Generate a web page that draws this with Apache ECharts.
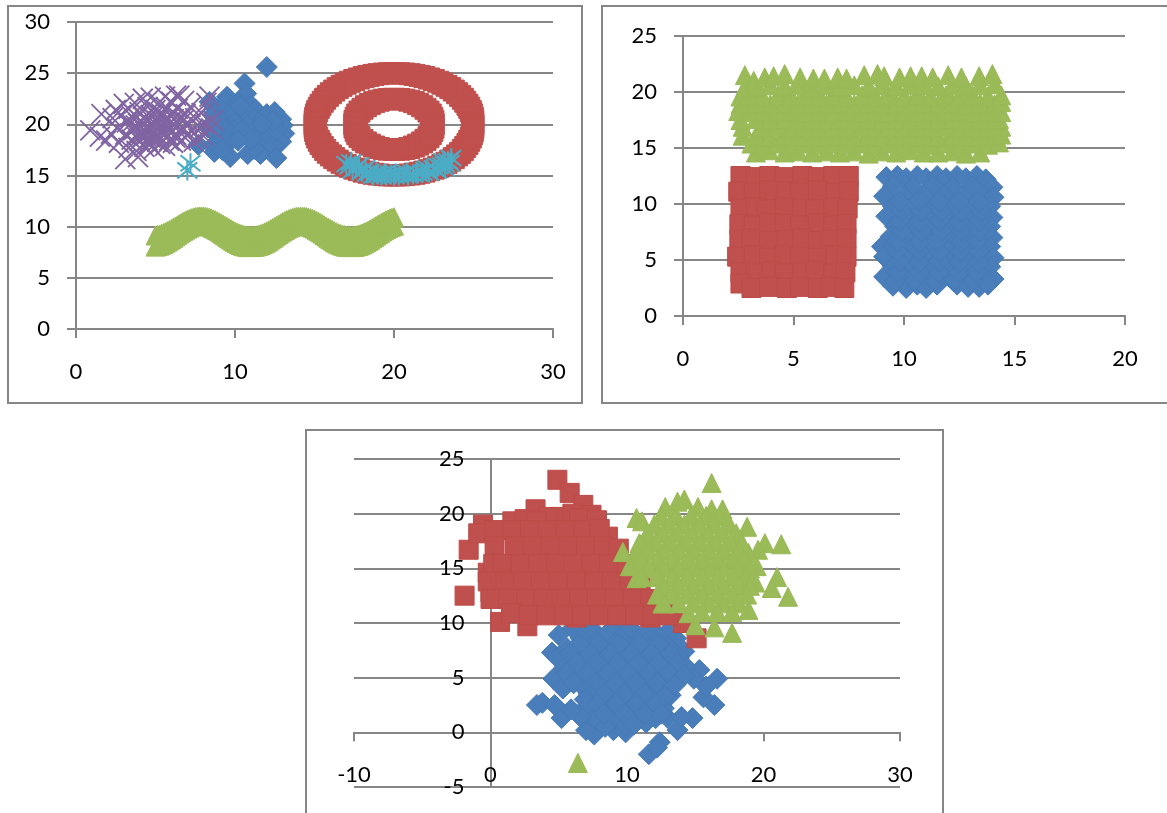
<!DOCTYPE html>
<html><head><meta charset="utf-8">
<script src="https://cdn.jsdelivr.net/npm/echarts@6/dist/echarts.min.js"></script>
<style>html,body{margin:0;padding:0;background:#fff;overflow:hidden}#c{width:1167px;height:813px}</style>
</head><body><div id="c"></div>
<script>
const a1Blue=[[12,25.6],[10.6,24],[10.7,23],[9.5,22.7],[8.4,22.2],[10.2,22.1],[11,21.9],[9,21.6],[9.8,21.2],[10.6,21.3],[11.3,21.4],[12,21],[12.5,21.2],[8.6,20.9],[10.5,20.8],[11.2,20.5],[11.8,20.6],[12.9,20.5],[9.3,20.2],[10,20.1],[10.8,19.9],[11.6,19.8],[12.2,19.9],[13,19.9],[8.3,19.7],[9.9,19.4],[11.3,19.5],[13.1,19.1],[8.8,19],[9.6,19],[10.5,18.9],[11.4,18.9],[12.2,18.8],[9.4,18.4],[11.4,18.5],[12.9,18.3],[7.7,18],[8.6,17.9],[9.5,18],[11.7,17.8],[12.4,17.9],[8.7,17.3],[9.7,16.8],[9.2,17.5],[10.8,17.1],[11.6,17.1],[12.6,16.7],[11.2,17.6],[9.4,19.6],[10.4,19.4],[12,19.3],[12.6,19.4],[11,18.5],[10.2,18.4],[12.4,20.3],[9,19.9],[10.3,21.8],[11.7,20]];
const a1Red=[[25,20],[24.96,20.65],[24.83,21.29],[24.62,21.91],[24.33,22.5],[23.97,23.04],[23.54,23.54],[23.04,23.97],[22.5,24.33],[21.91,24.62],[21.29,24.83],[20.65,24.96],[20,25],[19.35,24.96],[18.71,24.83],[18.09,24.62],[17.5,24.33],[16.96,23.97],[16.46,23.54],[16.03,23.04],[15.67,22.5],[15.38,21.91],[15.17,21.29],[15.04,20.65],[15,20],[15.04,19.35],[15.17,18.71],[15.38,18.09],[15.67,17.5],[16.03,16.96],[16.46,16.46],[16.96,16.03],[17.5,15.67],[18.09,15.38],[18.71,15.17],[19.35,15.04],[20,15],[20.65,15.04],[21.29,15.17],[21.91,15.38],[22.5,15.67],[23.04,16.03],[23.54,16.46],[23.97,16.96],[24.33,17.5],[24.62,18.09],[24.83,18.71],[24.96,19.35],
[24.99,20.33],[24.9,20.98],[24.73,21.61],[24.48,22.21],[24.16,22.78],[23.76,23.3],[23.3,23.76],[22.78,24.16],[22.21,24.48],[21.61,24.73],[20.98,24.9],[20.33,24.99],[19.67,24.99],[19.02,24.9],[18.39,24.73],[17.79,24.48],[17.22,24.16],[16.7,23.76],[16.24,23.3],[15.84,22.78],[15.52,22.21],[15.27,21.61],[15.1,20.98],[15.01,20.33],[15.01,19.67],[15.1,19.02],[15.27,18.39],[15.52,17.79],[15.84,17.22],[16.24,16.7],[16.7,16.24],[17.22,15.84],[17.79,15.52],[18.39,15.27],[19.02,15.1],[19.67,15.01],[20.33,15.01],[20.98,15.1],[21.61,15.27],[22.21,15.52],[22.78,15.84],[23.3,16.24],[23.76,16.7],[24.16,17.22],[24.48,17.79],[24.73,18.39],[24.9,19.02],[24.99,19.67],
[22.5,20],[22.41,20.65],[22.17,21.25],[21.77,21.77],[21.25,22.17],[20.65,22.41],[20,22.5],[19.35,22.41],[18.75,22.17],[18.23,21.77],[17.83,21.25],[17.59,20.65],[17.5,20],[17.59,19.35],[17.83,18.75],[18.23,18.23],[18.75,17.83],[19.35,17.59],[20,17.5],[20.65,17.59],[21.25,17.83],[21.77,18.23],[22.17,18.75],[22.41,19.35],
[22.48,20.33],[22.31,20.96],[21.98,21.52],[21.52,21.98],[20.96,22.31],[20.33,22.48],[19.67,22.48],[19.04,22.31],[18.48,21.98],[18.02,21.52],[17.69,20.96],[17.52,20.33],[17.52,19.67],[17.69,19.04],[18.02,18.48],[18.48,18.02],[19.04,17.69],[19.67,17.52],[20.33,17.52],[20.96,17.69],[21.52,18.02],[21.98,18.48],[22.31,19.04],[22.48,19.67]];
const a1GreenX=[5,5.25,5.5,5.75,6,6.25,6.5,6.75,7,7.25,7.5,7.75,8,8.25,8.5,8.75,9,9.25,9.5,9.75,10,10.25,10.5,10.75,11,11.25,11.5,11.75,12,12.25,12.5,12.75,13,13.25,13.5,13.75,14,14.25,14.5,14.75,15,15.25,15.5,15.75,16,16.25,16.5,16.75,17,17.25,17.5,17.75,18,18.25,18.5,18.75,19,19.25,19.5,19.75,20];
const a1GreenLow=[8.05,8.15,8.32,8.54,8.79,9.06,9.34,9.6,9.82,10.01,10.13,10.19,10.19,10.12,9.98,9.79,9.55,9.29,9.02,8.75,8.5,8.29,8.13,8.03,8,8.04,8.14,8.3,8.51,8.76,9.03,9.3,9.56,9.8,9.98,10.12,10.19,10.19,10.13,10,9.82,9.59,9.33,9.05,8.78,8.53,8.32,8.15,8.04,8,8.03,8.12,8.27,8.48,8.73,9,9.27,9.53,9.77,9.97,10.1];
const a1GreenHigh=[9.14,9.23,9.38,9.57,9.78,10.02,10.25,10.48,10.67,10.83,10.94,10.99,10.99,10.93,10.81,10.64,10.44,10.22,9.98,9.75,9.53,9.35,9.21,9.13,9.1,9.13,9.22,9.36,9.54,9.76,9.99,10.22,10.45,10.65,10.81,10.93,10.99,10.99,10.94,10.83,10.67,10.47,10.25,10.01,9.78,9.56,9.37,9.23,9.14,9.1,9.12,9.2,9.34,9.52,9.73,9.96,10.19,10.42,10.63,10.8,10.92];
const a1GreenX2=[5.125,5.375,5.625,5.875,6.125,6.375,6.625,6.875,7.125,7.375,7.625,7.875,8.125,8.375,8.625,8.875,9.125,9.375,9.625,9.875,10.125,10.375,10.625,10.875,11.125,11.375,11.625,11.875,12.125,12.375,12.625,12.875,13.125,13.375,13.625,13.875,14.125,14.375,14.625,14.875,15.125,15.375,15.625,15.875,16.125,16.375,16.625,16.875,17.125,17.375,17.625,17.875,18.125,18.375,18.625,18.875,19.125,19.375,19.625,19.875];
const a1GreenLow2=[8.1,8.23,8.43,8.66,8.92,9.2,9.47,9.71,9.91,10.07,10.16,10.19,10.15,10.05,9.88,9.67,9.42,9.15,8.88,8.62,8.39,8.21,8.08,8.01,8.02,8.09,8.22,8.4,8.63,8.9,9.16,9.43,9.68,9.89,10.05,10.15,10.19,10.16,10.06,9.91,9.7,9.46,9.19,8.91,8.65,8.42,8.23,8.09,8.02,8.01,8.07,8.19,8.37,8.6,8.86,9.13,9.4,9.65,9.87,10.03];
const a1GreenHigh2=[9.18,9.3,9.47,9.67,9.9,10.13,10.36,10.57,10.75,10.88,10.96,10.99,10.96,10.87,10.72,10.54,10.33,10.1,9.86,9.64,9.44,9.28,9.17,9.11,9.11,9.17,9.29,9.45,9.65,9.87,10.1,10.33,10.55,10.73,10.87,10.96,10.99,10.96,10.88,10.75,10.57,10.36,10.13,9.9,9.67,9.46,9.3,9.18,9.12,9.11,9.16,9.27,9.43,9.62,9.84,10.07,10.3,10.52,10.71,10.86];
const a1Purple=[[0.9,19.4],[1.5,18.8],[1.6,21],[1.9,18.4],[2.2,19.1],[2.3,20.6],[2.5,21.4],[2.6,19.6],[2.7,18.2],[2.8,20.9],[3,22],[3.1,16.6],[3.1,19],[3.2,20.2],[3.3,21.5],[3.3,17.7],[3.5,18.5],[3.5,20.8],[3.6,19.4],[3.7,22.1],[3.8,17.4],[3.9,16.8],[3.9,20.1],[4,21.2],[4,18.4],[4.1,19.2],[4.2,22.5],[4.3,17.8],[4.3,20.6],[4.4,18.9],[4.5,21.7],[4.5,19.7],[4.6,18.1],[4.7,20.9],[4.7,22.6],[4.8,19.1],[4.9,20.2],[4.9,17.6],[5,21.4],[5,18.6],[5.1,19.6],[5.2,22.1],[5.2,20.6],[5.3,18.1],[5.4,19.1],[5.4,21],[5.5,20],[5.6,17.9],[5.6,22.7],[5.7,21.6],[5.8,18.9],[5.8,20.5],[5.9,19.5],[6,22.2],[6,21.1],[6.1,18.2],[6.2,20],[6.3,22.8],[6.3,19],[6.4,21.5],[6.5,22.8],[6.5,20.6],[6.6,18.4],[6.7,19.6],[6.8,22.3],[6.9,21],[7,18.9],[7,20.2],[7.2,21.7],[7.3,19.4],[7.4,18.3],[7.5,20.6],[7.7,18.6],[7.8,19.7],[7.9,21.1],[8,18.9],[8.1,20],[8.2,22.1],[8.4,22.7],[8.5,19.6],[8.6,20.4],
[4.2,20],[4.4,20.4],[4.6,19.4],[4.7,18.7],[4.8,20.7],[4.95,19.8],[5.05,19],[5.15,20.3],[5.25,18.8],[5.3,19.9],[5.35,20.9],[5.45,19.4],[5.55,20.4],[5.65,19.1],[5.75,19.9],[5.85,18.4],[5.95,20.9],[4.35,19.3],[4.15,18.7],[3.75,19.9],[3.45,20.1],[6.05,19.3],[6.15,20.5],[6.25,18.7],[6.55,19.2],[6.75,20.4],[7.1,19.1],[3.8,18.8],[4.5,18.4],[5.1,18.3]];
const a1Cyan=[[7,15.5],[7.2,16.2],[17,16.1],[17.2,15.9],[17.3,16.3],[17.4,15.5],[17.6,15.7],[17.8,16],[18,15.4],[18.2,15.7],[18.3,15.2],[18.5,15.3],[18.7,15],[18.9,15.3],[19,15.1],[19.2,15],[19.4,15.2],[19.5,15],[19.8,15.1],[20,15],[20.1,15.2],[20.3,15],[20.6,15.1],[20.8,15.3],[20.9,15],[21.2,15.1],[21.4,15.3],[21.5,15.2],[21.8,15.3],[22,15.5],[22.1,15.7],[22.2,15.3],[22.5,15.7],[22.7,15.5],[22.8,15.9],[23,16],[23.1,16.4],[23.2,16.1],[23.4,16.4],[23.6,16.7],[23.5,16.2],[23.2,15.7]];

const b2Blue=[[9.2,12.4],[9.7,12.5],[10.1,12.3],[10.6,12.5],[11,12.3],[11.5,12.5],[11.9,12.3],[12.4,12.5],[12.8,12.3],[13.3,12.5],[13.7,12.2],
[9.5,11.6],[10.4,11.5],[11.3,11.6],[12.2,11.5],[13.1,11.6],[14,11.5],
[9.1,10.7],[10,10.7],[10.9,10.7],[11.8,10.8],[12.7,10.6],[13.6,10.7],[14.05,10.6],
[9.5,9.8],[10.4,9.8],[11.3,9.8],[12.2,9.8],[13.1,9.8],[13.9,9.8],
[9.2,8.9],[10,8.9],[10.9,8.9],[11.8,8.9],[12.7,8.9],[13.6,8.9],[14,8.8],
[9.6,8],[10.4,8],[11.3,8],[12.2,8],[13.1,8],[13.9,8],
[9.4,7.1],[10,7.1],[10.9,7.1],[11.8,7.1],[12.7,7.1],[13.6,7.1],[14,7],
[9,6.2],[9.5,6.2],[10.4,6.2],[11.3,6.2],[12.2,6.2],[13.1,6.2],[13.9,6.2],
[9.1,5.3],[10,5.3],[10.9,5.3],[11.8,5.3],[12.7,5.3],[13.6,5.3],[14.05,5.2],
[9.5,4.4],[10.4,4.4],[11.3,4.4],[12.2,4.4],[13.1,4.4],[13.9,4.4],
[9.1,3.5],[10,3.5],[10.9,3.5],[11.8,3.5],[12.7,3.5],[13.6,3.5],[14.05,3.3],
[9.5,2.7],[10.1,2.5],[10.6,2.8],[11,2.5],[11.5,2.8],[12.4,2.8],[12.9,2.6],[13.4,2.6],[13.8,2.8],
[9.6,3.1],[10.5,3.2],[11.4,3.1],[12.3,3.2],[13.1,3.1],[9.7,3.9],[10.7,3.9],[11.6,3.9],[12.5,3.9],[13.3,3.9],[9.8,4.9],[10.7,4.8],[11.6,4.9],[12.5,4.8],[13.4,4.8],[9.7,5.8],[10.7,5.8],[11.6,5.7],[12.6,5.8],[13.4,5.8],[9.7,6.7],[10.7,6.6],[11.5,6.7],[12.6,6.6],[13.3,6.7],[9.9,7.6],[10.8,7.6],[11.7,7.6],[12.6,7.6],[13.4,7.6],[9.8,8.5],[10.7,8.4],[11.6,8.5],[12.5,8.4],[13.4,8.5],[9.9,9.4],[10.8,9.4],[11.7,9.4],[12.6,9.4],[13.5,9.4],[9.8,10.2],[10.7,10.3],[11.6,10.2],[12.5,10.2],[13.4,10.2]];
const b2Red=[[2.6,12.5],[3.3,12.4],[3.9,12.5],[4.6,12.4],[5.4,12.5],[6.1,12.4],[6.8,12.5],[7.5,12.5],
[2.5,11.1],[3.2,11],[3.9,11.2],[4.7,11.1],[5.3,11],[6.1,11.2],[6.9,11],[7.5,11.1],
[2.6,9.6],[3.3,9.7],[3.8,9.5],[4.6,9.7],[5.4,9.6],[6,9.5],[6.8,9.7],[7.45,9.6],
[2.55,8.2],[3.2,8.1],[3.9,8.3],[4.6,8.2],[5.3,8.1],[6.1,8.3],[6.8,8.1],[7.4,8.2],
[2.55,6.8],[3.1,6.9],[3.9,6.7],[4.7,6.8],[5.4,6.9],[6.1,6.7],[6.7,6.8],[7.4,6.9],
[2.45,5.3],[3.2,5.4],[3.9,5.2],[4.6,5.4],[5.3,5.3],[6.1,5.2],[6.9,5.4],[7.4,5.3],
[2.6,3.9],[3.3,3.8],[4,4],[4.6,3.8],[5.4,3.9],[6,4],[6.8,3.8],[7.35,3.9],
[2.6,2.9],[3.1,2.5],[3.9,2.6],[4.7,2.5],[5.3,2.6],[6.1,2.5],[6.7,2.6],[7.3,2.5]];
const b2Green=[[3.3,14.6],[3.9,14.8],[4.6,14.6],[5.2,14.7],[5.85,14.6],[6.5,14.7],[7.1,14.6],[7.75,14.7],[8.4,14.5],[9,14.7],[9.65,14.6],[10.3,14.8],[10.9,14.6],[11.55,14.6],[12.2,14.7],[12.8,14.5],[13.45,14.6],
[3.1,15.4],[3.6,15.3],[4.3,15.4],[4.9,15.3],[5.5,15.4],[6.2,15.3],[6.8,15.4],[7.4,15.3],[8.1,15.4],[8.7,15.3],[9.3,15.4],[10,15.3],[10.6,15.4],[11.2,15.3],[11.9,15.4],[12.5,15.3],[13.1,15.4],[13.8,15.3],[14.3,15.5],
[2.7,16.1],[3.3,16.1],[3.95,16],[4.6,16.1],[5.2,16],[5.85,16.1],[6.5,16],[7.1,16.1],[7.75,16],[8.4,16.1],[9,16],[9.65,16.1],[10.3,16],[10.9,16.1],[11.55,16],[12.2,16.1],[12.8,16],[13.45,16.1],[14.1,16],[14.4,16.2],
[2.7,16.9],[3.6,16.8],[4.3,16.9],[4.9,16.8],[5.5,16.9],[6.2,16.8],[6.8,16.9],[7.4,16.8],[8.1,16.9],[8.7,16.8],[9.3,16.9],[10,16.8],[10.6,16.9],[11.2,16.8],[11.9,16.9],[12.5,16.8],[13.1,16.9],[13.8,16.8],[14.4,16.9],
[2.6,17.5],[3.3,17.6],[3.95,17.5],[4.6,17.6],[5.2,17.5],[5.85,17.6],[6.5,17.5],[7.1,17.6],[7.75,17.5],[8.4,17.6],[9,17.5],[9.65,17.6],[10.3,17.5],[10.9,17.6],[11.55,17.5],[12.2,17.6],[12.8,17.5],[13.45,17.6],[14.1,17.5],[14.3,17.6],
[2.5,18.3],[3,18.2],[3.6,18.3],[4.3,18.2],[4.9,18.3],[5.5,18.2],[6.2,18.3],[6.8,18.2],[7.4,18.3],[8.1,18.2],[8.7,18.3],[9.3,18.2],[10,18.3],[10.6,18.2],[11.2,18.3],[11.9,18.2],[12.5,18.3],[13.1,18.2],[13.8,18.3],[14.4,18.2],
[2.6,18.9],[3.3,19],[3.95,18.9],[4.6,19],[5.2,18.9],[5.85,19],[6.5,18.9],[7.1,19],[7.75,18.9],[8.4,19],[9,18.9],[9.65,19],[10.3,18.9],[10.9,19],[11.55,18.9],[12.2,19],[12.8,18.9],[13.45,19],[14.1,18.9],[14.4,19.1],
[2.6,19.6],[3,19.7],[3.6,19.6],[4.3,19.7],[4.9,19.6],[5.5,19.7],[6.2,19.6],[6.8,19.7],[7.4,19.6],[8.1,19.7],[8.7,19.6],[9.3,19.7],[10,19.6],[10.6,19.7],[11.2,19.6],[11.9,19.7],[12.5,19.6],[13.1,19.7],[13.8,19.6],[14.4,19.7],
[2.8,20.4],[3.3,20.5],[3.95,20.6],[4.6,20.5],[5.2,20.6],[5.85,20.4],[6.5,20.6],[7.1,20.5],[7.75,20.6],[8.4,20.5],[9,20.6],[9.65,20.5],[10.3,20.6],[10.9,20.6],[11.55,20.5],[12.2,20.6],[12.8,20.5],[13.45,20.6],[14.1,20.7],
[2.8,21.5],[3.2,21],[3.7,21.3],[4.1,21.4],[4.6,21.6],[5.3,21.3],[5.9,21.2],[6.4,21.2],[7,21.3],[7.4,21.2],[8.2,21.5],[8.8,21.6],[9.1,21.4],[9.8,21.3],[10.3,21.4],[10.8,21.4],[11.3,21.3],[12,21.5],[12.6,21.3],[13.4,21.4],[14,21.6]];

const c3Blue=[[3.4,2.5],[3.8,2.7],[4.5,7.3],[5.2,1.3],[4.7,2.5],[7.6,-0.2],[7,0.2],[9,0.2],[9.9,0],[11.4,0.9],[11.6,-2],[12.4,-0.9],[12.2,-1.4],[13.7,0.2],[13,1.3],[14.8,1.3],[14,1.4],[16.4,2.5],[15.6,3.2],[16.6,4.9],[15.8,4.2],[15.3,5.7],[14.2,7.4],
[6,9.5],[7.4,9.5],[8.9,9.5],[9.7,10],[10.3,9.5],[11.8,9.5],[13.2,9.5],
[5,8.9],[6.6,8.6],[8,8.6],[9.5,8.6],[11,8.6],[12.4,8.6],[13.6,8.6],
[5.6,7.7],[7.2,7.7],[8.7,7.7],[10.2,7.7],[11.7,7.7],[13.1,7.7],
[4.9,6.8],[6.4,6.8],[7.9,6.8],[9.4,6.8],[10.9,6.8],[12.4,6.8],[13.8,6.8],
[5.4,5.9],[6.9,5.9],[8.4,5.9],[9.9,5.9],[11.4,5.9],[12.9,5.9],[14.4,5.9],
[4.6,4.9],[6.1,4.9],[7.6,4.9],[9.1,4.9],[10.6,4.9],[12.1,4.9],[13.6,4.9],[14.9,4.9],
[5.3,4],[6.9,4],[8.4,4],[9.9,4],[11.4,4],[12.9,4],
[7.5,3.1],[9,3.1],[10.5,3.1],[12,3.1],[13.2,3.4],
[6.9,2.2],[8.4,2.2],[9.9,2.2],[11.4,2.2],[12.7,2.2],
[7.6,1.3],[9.1,1.3],[10.6,1.3],[12.1,1.3],[8.4,0.5],[9.9,0.6],
[6.5,8.1],[7.9,8.1],[9.4,8.1],[10.9,8.1],[12.3,8.1],[5.8,7.2],[7.3,7.2],[8.8,7.2],[10.3,7.2],[11.8,7.2],[13.2,7.2],[6.3,6.3],[7.8,6.3],[9.3,6.3],[10.8,6.3],[12.3,6.3],[13.7,6.3],[5.6,5.4],[7.1,5.4],[8.6,5.4],[10.1,5.4],[11.6,5.4],[13.1,5.4],[14.2,5.2],[6.1,4.5],[7.7,4.5],[9.2,4.5],[10.7,4.5],[12.2,4.5],[13.5,4.3],[7.2,3.5],[8.3,3.5],[9.8,3.5],[11.3,3.5],[12.8,3.3],[6.9,3],[7.8,2.6],[9.2,2.6],[10.7,2.6],[12.1,2.6],[8.3,1.7],[9.8,1.7],[11.3,1.7],[12.5,1.7],[6.6,1.4],[10.5,0.7],[5.9,2.1]];
const c3Red=[[4.9,23.1],[5.8,21.9],[-0.55,19],[-1.6,16.7],[-1.9,12.5],[0.7,10.1],[2.7,9.7],[3.3,20.4],[1.6,19.3],[-0.2,14.6],[0,12.8],[6.8,20.8],[5.1,19.7],[8.6,17.9],[6.3,10.5],[10.7,11],[11.7,10.5],[15.1,8.6],[14.1,10],[-0.9,18.2],[7.4,19.9],
[2.5,19.5],[4.2,19.7],[6,20],[6.5,19.6],[7.8,19.4],[3.4,19.3],[0.3,18.5],[1.6,18.5],[2.9,18.5],[4.2,18.5],[5.5,18.5],[6.8,18.5],[8,18.6],
[0.3,17],[1.8,17],[3.1,17],[4.4,17],[5.7,17],[7,17],[8.3,17],[9.4,16.8],
[0.2,15.4],[0.9,15.4],[2.2,15.4],[3.5,15.4],[4.8,15.4],[6.1,15.4],[7.4,15.4],[8.7,15.4],[10,15.4],
[-0.2,13.8],[1.1,13.8],[2.4,13.8],[3.7,13.8],[5,13.8],[6.3,13.8],[7.6,13.8],[8.9,13.8],[10.2,13.8],[11,13.8],
[0,12.2],[1.3,12.2],[2.6,12.2],[3.9,12.2],[5.2,12.2],[6.5,12.2],[7.8,12.2],[9.1,12.2],[10.4,12.2],[11.7,12.2],[12.8,12.2],
[1.5,10.9],[2.8,10.7],[4.1,10.7],[5.4,10.7],[6.7,10.7],[8,10.7],[9.3,10.7],[10.6,10.7],[11.9,10.7],[13,10.7]];
const c3Green=[[6.4,-2.8],[16.2,22.8],[13.7,21.1],[14.2,21.3],[12.8,20.6],[15.2,20.6],[16.2,20.4],[17,20.4],[10.7,19.6],[11.1,19.3],[18.8,18.8],[20.1,17.3],[21.3,17.2],[19.6,16.7],[9.7,16.5],[21,14.2],[21.8,12.4],[20.6,13.2],[19.4,13.7],[18.9,16.4],[19.5,15.2],[10.7,14.1],[17.7,9.1],[15,9.8],[16.4,9.6],[14.5,10.9],[12.6,11.8],[18.9,11.2],
[10.6,15.6],[10.8,16.8],[10.2,15.2],[11.3,17],[10.9,17.3],[12.5,19.8],[13.6,19.8],[14.7,19.8],[15.8,19.8],[16.8,19.8],
[12,19],[13.1,19],[14.2,19],[15.3,19],[16.4,19],[17.5,19],
[11.5,18.2],[12.6,18.2],[13.7,18.2],[14.8,18.2],[15.9,18.2],[17,18.2],[18,18.2],
[11,17.2],[12.1,17.4],[13.2,17.4],[14.3,17.4],[15.4,17.4],[16.5,17.4],[17.6,17.4],[18.4,17.4],
[11.6,16.6],[12.7,16.6],[13.8,16.6],[14.9,16.6],[16,16.6],[17.1,16.6],[18.2,16.6],
[11.1,15.8],[12.2,15.8],[13.3,15.8],[14.4,15.8],[15.5,15.8],[16.6,15.8],[17.7,15.8],[18.6,15.8],
[11.6,15],[12.7,15],[13.8,15],[14.9,15],[16,15],[17.1,15],[18.2,15],[19,15],
[11.1,14.2],[12.2,14.2],[13.3,14.2],[14.4,14.2],[15.5,14.2],[16.6,14.2],[17.7,14.2],[18.7,14.2],
[12.7,13.4],[13.8,13.4],[14.9,13.4],[16,13.4],[17.1,13.4],[18.2,13.4],[19,13.4],
[12.2,12.6],[13.3,12.6],[14.4,12.6],[15.5,12.6],[16.6,12.6],[17.7,12.6],[18.8,12.6],
[12.7,11.8],[13.8,11.8],[14.9,11.8],[16,11.8],[17.1,11.8],[18.2,11.8],
[15.5,11],[16.6,11],[17.7,11]];

const a1Green=[...a1GreenX.map((x,i)=>[x,a1GreenLow[i]]),...a1GreenX2.map((x,i)=>[x,a1GreenLow2[i]]),...a1GreenX.map((x,i)=>[x,a1GreenHigh[i]]),...a1GreenX2.map((x,i)=>[x,a1GreenHigh2[i]])];
const BLUE='#4A7EBB',RED='#C0504D',GREEN='#9BBB59',PURPLE='#8064A2',CYAN='#4BACC6',LINE='#868686';
const FONT='Lato';
const xPath='path://M0 0L20 20M20 0L0 20';
const starPath='path://M1 2L19 18M19 2L1 18M10 0L10 20';
function solid(name,data,g,sym,col,edge,size){return {name,type:'scatter',xAxisIndex:g,yAxisIndex:g,data,symbol:sym,symbolSize:size||19,itemStyle:{color:col,borderColor:edge,borderWidth:1,opacity:1},silent:true};}
function stroke(name,data,g,path,col,w){return {name,type:'scatter',xAxisIndex:g,yAxisIndex:g,data,symbol:path,symbolSize:20,itemStyle:{color:'none',borderColor:col,borderWidth:w,opacity:1},silent:true};}
function xA(g,min,max,iv,off){return {gridIndex:g,type:'value',min,max,interval:iv,offset:off,splitLine:{show:false},axisLine:{show:true,onZero:false,lineStyle:{color:LINE,width:2}},axisTick:{show:true,length:9,lineStyle:{color:LINE,width:2}},axisLabel:{color:'#000',fontFamily:FONT,fontSize:22,margin:32,showMinLabel:true,showMaxLabel:true,hideOverlap:false}};}
function yA(g,min,max,iv,off){return {gridIndex:g,type:'value',min,max,interval:iv,offset:off,splitLine:{show:true,lineStyle:{color:LINE,width:2}},axisLine:{show:true,onZero:false,lineStyle:{color:LINE,width:2}},axisTick:{show:true,length:9,lineStyle:{color:LINE,width:2}},axisLabel:{color:'#000',fontFamily:FONT,fontSize:22,margin:26,showMinLabel:true,showMaxLabel:true,hideOverlap:false}};}
const frame=(x,y,w,h)=>({type:'rect',silent:true,z:-1,shape:{x,y,width:w,height:h},style:{fill:'#fff',stroke:LINE,lineWidth:2}});
const chart=echarts.init(document.getElementById('c'),null,{renderer:'canvas'});
chart.setOption({
 animation:false,backgroundColor:'#fff',tooltip:{show:false},
 graphic:{elements:[frame(8,6,574,397),frame(602,6,600,397),frame(306,430,637,420)]},
 grid:[{left:76,top:22,width:477,height:307,outerBoundsMode:'none'},{left:683,top:36,width:442,height:280,outerBoundsMode:'none'},{left:354,top:459,width:546,height:328,outerBoundsMode:'none'}],
 xAxis:[xA(0,0,30,10,0),xA(1,0,20,5,0),xA(2,-10,30,10,-54.67)],
 yAxis:[yA(0,0,30,5,0),yA(1,0,25,5,0),yA(2,-5,25,5,-136.5)],
 series:[
  solid('Series1',a1Blue,0,'diamond',BLUE,'#467AB6',21),
  solid('Series2',a1Red,0,'rect',RED,RED,21),
  solid('Series3',a1Green,0,'triangle',GREEN,GREEN),
  stroke('Series4',a1Purple,0,xPath,PURPLE,1.8),
  stroke('Series5',a1Cyan,0,starPath,CYAN,2),
  solid('Series1',b2Blue,1,'diamond',BLUE,'#467AB6',21),
  solid('Series2',b2Red,1,'rect',RED,'#BC4B48'),
  solid('Series3',b2Green,1,'triangle',GREEN,'#98B956'),
  solid('Series1',c3Blue,2,'diamond',BLUE,'#467AB6',21),
  solid('Series2',c3Red,2,'rect',RED,'#BC4B48'),
  solid('Series3',c3Green,2,'triangle',GREEN,'#98B956')
 ]
});
</script></body></html>
